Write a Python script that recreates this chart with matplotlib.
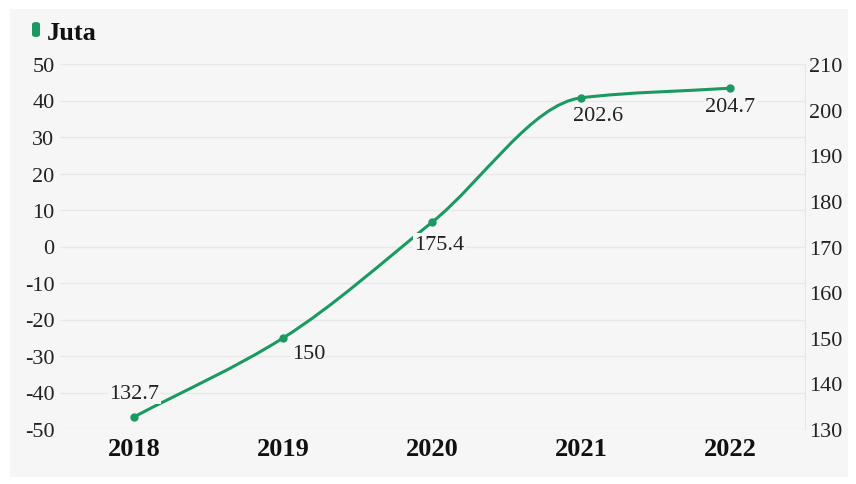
import numpy as np
import matplotlib.pyplot as plt
from matplotlib.path import Path
from matplotlib.patches import PathPatch, FancyBboxPatch, Rectangle

years = ['2018', '2019', '2020', '2021', '2022']
juta = [132.7, 150, 175.4, 202.6, 204.7]
left_ticks = [-50, -40, -30, -20, -10, 0, 10, 20, 30, 40, 50]
right_ticks = [130, 140, 150, 160, 170, 180, 190, 200, 210]

green = '#1a9a62'
serif = 'Liberation Serif'
plt.rcParams['font.family'] = serif

fig = plt.figure(figsize=(8.56, 4.85), dpi=100, facecolor='white')
# gray panel behind everything
fig.patches.append(Rectangle((10 / 856, 7 / 485), 838 / 856, 468 / 485,
                             transform=fig.transFigure, facecolor='#f6f6f6',
                             edgecolor='none', zorder=-10))

ax = fig.add_axes([60 / 856, 55 / 485, 745 / 856, 365 / 485])
ax.set_facecolor('none')
ax.set_xlim(-0.5, 4.5)
ax.set_ylim(-50, 50)
ax.set_yticks(left_ticks)
ax.set_yticklabels([str(t) for t in left_ticks])
ax.grid(axis='y', color='#e8e8e8', linewidth=1)
ax.set_xticks(range(len(years)))
ax.set_xticklabels(years, fontsize=19, fontweight='bold', color='#111111')
ax.tick_params(axis='x', length=0, pad=6)
ax.tick_params(axis='y', length=0, labelsize=16, labelcolor='#222222', pad=4)
for s in ax.spines.values():
    s.set_visible(False)

ax2 = ax.twinx()
ax2.set_ylim(130, 210)
ax2.set_yticks(right_ticks)
ax2.tick_params(axis='y', length=0, labelsize=16, labelcolor='#222222', pad=3)
for s in ax2.spines.values():
    s.set_visible(False)
ax2.spines['right'].set_visible(True)
ax2.spines['right'].set_color('#e6e6e6')

# monotone cubic curve through the points, drawn as bezier segments
x = np.arange(len(juta), dtype=float)
y = np.array(juta, dtype=float)
d = np.diff(y) / np.diff(x)
m = np.zeros_like(y)
m[0], m[-1] = d[0], d[-1]
for i in range(1, len(y) - 1):
    if d[i - 1] * d[i] <= 0:
        m[i] = 0
    else:
        m[i] = 2 / (1 / d[i - 1] + 1 / d[i])
verts = [(x[0], y[0])]
codes = [Path.MOVETO]
for i in range(len(x) - 1):
    h = x[i + 1] - x[i]
    verts += [(x[i] + h / 3, y[i] + m[i] * h / 3),
              (x[i + 1] - h / 3, y[i + 1] - m[i + 1] * h / 3),
              (x[i + 1], y[i + 1])]
    codes += [Path.CURVE4] * 3
ax2.add_patch(PathPatch(Path(verts, codes), facecolor='none', edgecolor=green,
                        linewidth=2.2, zorder=3))
ax2.plot(x, y, 'o', color=green, markersize=5, zorder=4)

offsets = [(0, 17), (18, -11), (5, -16), (12, -13), (0, -13)]
for xi, v, (dx, dy) in zip(x, juta, offsets):
    ax2.annotate(f'{v:g}', (xi, v), xytext=(dx, dy), textcoords='offset points',
                 ha='center', va='center', fontsize=16, color='#222222',
                 bbox=dict(boxstyle='square,pad=0.05', fc='#f6f6f6', ec='none'),
                 zorder=5)

# legend marker and unit label
fig.patches.append(FancyBboxPatch((32 / 856, 447 / 485), 8 / 856, 15 / 485,
                                  boxstyle='round,pad=0,rounding_size=0.005',
                                  transform=fig.transFigure, facecolor=green,
                                  edgecolor='none'))
fig.text(47 / 856, 451 / 485, 'Juta', fontsize=19, fontweight='bold',
         color='#111111', va='center', ha='left')

fig.savefig('out.png', dpi=100, facecolor='white')
